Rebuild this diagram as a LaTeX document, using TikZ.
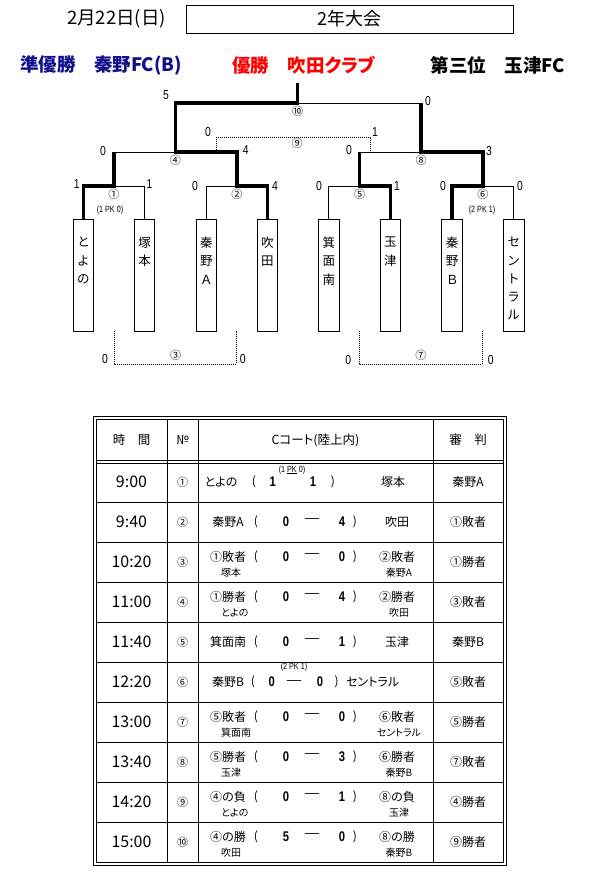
\documentclass[tikz,border=0pt]{standalone}
\usepackage{fontspec}
\newfontfamily\jpfont[RawFeature={+palt}]{Noto Sans CJK JP}
\newfontfamily\narrowfont[FakeStretch=0.8]{Liberation Sans}
\usepackage{tikz}
\usetikzlibrary{positioning}
\definecolor{runnerblue}{RGB}{16, 16, 140}
\definecolor{winnerred}{RGB}{255, 0, 0}

% one line of the schedule: row, time, no., left, score, score, right, referee, lift
\newcommand{\gamerow}[9]{%
  \node[timetxt] (time#1) at (131.5,{442+40*#1}) {#2};
  \node[numtxt] (no#1) at (182.5,{442+40*#1}) {#3};
  \node[cell] (home#1) at (228,{442+40*#1-#9}) {#4};
  \node[cell] (lp#1) at (256,{442+40*#1-#9}) {(};
  \node[tscore] (sa#1) at (286,{442+40*#1-#9}) {#5};
  \node[dashtxt] (dash#1) at (312,{442+40*#1-#9}) {―};
  \node[tscore] (sb#1) at (342,{442+40*#1-#9}) {#6};
  \node[cell] (rp#1) at (355,{442+40*#1-#9}) {)};
  \node[cell] (away#1) at (397,{442+40*#1-#9}) {#7};
  \node[cell] (ref#1) at (468,{442+40*#1}) {#8};
}
% team names under the lines above
\newcommand{\gamesub}[3]{%
  \node[subtxt, anchor=west] (homesub#1) at (221,{442+40*#1+11}) {#2};
  \node[subtxt] (awaysub#1) at (399,{442+40*#1+11}) {#3};
}

\begin{document}
\begin{tikzpicture}[
    x=1pt, y=-1pt,
    datetxt/.style={font=\jpfont\fontsize{18.5}{18.5}\selectfont, inner sep=0pt},
    eventbox/.style={
        draw, line width=0.8pt, minimum width=327pt, minimum height=28pt,
        inner sep=0pt, font=\jpfont\fontsize{18}{18}\selectfont
    },
    title/.style={font=\jpfont\bfseries\fontsize{18.5}{18.5}\selectfont, inner sep=0pt},
    teambox/.style={
        draw, line width=0.9pt, minimum width=20.5pt, minimum height=112pt,
        inner sep=0pt, anchor=north
    },
    teamname/.style={font=\jpfont\fontsize{12.5}{18.2}\selectfont, align=center, inner sep=0pt},
    win/.style={line width=3.6pt},
    lose/.style={line width=0.9pt},
    consol/.style={line width=0.8pt, dash pattern=on 1pt off 1pt},
    score/.style={font=\narrowfont\fontsize{13}{13}\selectfont, inner sep=0pt},
    matchno/.style={font=\jpfont\fontsize{11}{11}\selectfont, inner sep=0pt},
    pk/.style={font=\narrowfont\fontsize{9}{9}\selectfont, inner sep=0pt},
    frame/.style={line width=0.8pt},
    grid/.style={line width=0.8pt},
    headtxt/.style={font=\jpfont\fontsize{12.5}{12.5}\selectfont, inner sep=0pt},
    timetxt/.style={font=\jpfont\fontsize{16}{16}\selectfont, inner sep=0pt},
    numtxt/.style={font=\jpfont\fontsize{11}{11}\selectfont, inner sep=0pt},
    cell/.style={font=\jpfont\fontsize{12}{12}\selectfont, inner sep=0pt},
    dashtxt/.style={font=\jpfont\bfseries\fontsize{17}{17}\selectfont, inner sep=0pt},
    tscore/.style={font=\narrowfont\bfseries\fontsize{14}{14}\selectfont, inner sep=0pt},
    subtxt/.style={font=\jpfont\fontsize{10}{10}\selectfont, inner sep=0pt}
]
\useasboundingbox (0,0) rectangle (591,877);

% Header
\node[datetxt] (date) at (116.5,19) {2月22日(日)};
\node[eventbox] (event) at (349.5,19) {2年大会};

% Results
\node[title, text=runnerblue] (runnerup) at (101,65) {準優勝　秦野FC(B)};
\node[title, text=winnerred] (champion) at (304,65) {優勝　吹田クラブ};
\node[title] (third) at (498,65) {第三位　玉津FC};

% Teams
\node[teambox] (t1) at (83.3,219) {};
\node[teambox] (t2) at (144.5,219) {};
\node[teambox] (t3) at (206.3,219) {};
\node[teambox] (t4) at (267.3,219) {};
\node[teambox] (t5) at (328.8,219) {};
\node[teambox] (t6) at (390.3,219) {};
\node[teambox] (t7) at (452,219) {};
\node[teambox] (t8) at (513.7,219) {};
\node[teamname, below=18pt of t1.north] (n1) {と\\よ\\の};
\node[teamname, below=18pt of t2.north] (n2) {塚\\本};
\node[teamname, below=18pt of t3.north] (n3) {秦\\野\\Ａ};
\node[teamname, below=18pt of t4.north] (n4) {吹\\田};
\node[teamname, below=18pt of t5.north] (n5) {箕\\面\\南};
\node[teamname, below=18pt of t6.north] (n6) {玉\\津};
\node[teamname, below=18pt of t7.north] (n7) {秦\\野\\Ｂ};
\node[teamname, below=18pt of t8.north] (n8) {セ\\ン\\ト\\ラ\\ル};

% Match points
\coordinate (m1) at (113.9,186);
\coordinate (m2) at (236.8,186);
\coordinate (m5) at (359.5,186);
\coordinate (m6) at (482.8,186);
\coordinate (s4) at (175.3,152);
\coordinate (s8) at (421.2,152);
\coordinate (f10) at (297.5,103);
\coordinate (top) at (297.5,83);
\coordinate (d9a) at (216.7,152);
\coordinate (d9b) at (370.7,152);
\coordinate (d3a) at (114.3,331);
\coordinate (d3b) at (236.7,331);
\coordinate (d7a) at (359.3,331);
\coordinate (d7b) at (482.3,331);

% Bracket
\draw[lose] (t2.north) |- (m1);
\draw[lose] (t3.north) |- (m2);
\draw[lose] (t5.north) |- (m5);
\draw[lose] (t8.north) |- (m6);
\draw[lose] (m1 |- s4) -- (s4);
\draw[lose] (m5 |- s8) -- (s8);
\draw[lose] (f10) -- (s8 |- f10);
\draw[win] (t1.north) |- (m1) -- (m1 |- s4);
\draw[win] (t4.north) |- (m2) -- (m2 |- s4) -- (s4) -- (s4 |- f10) -- (f10) -- (top);
\draw[win] (t6.north) |- (m5) -- (m5 |- s8);
\draw[win] (t7.north) |- (m6) -- (m6 |- s8) -- (s8) -- (s8 |- f10);
\draw[consol] (d9a) -- ++(0,-15) -| (d9b);
\draw[consol] (d3a) -- ++(0,33) -| (d3b);
\draw[consol] (d7a) -- ++(0,33) -| (d7b);

% Scores
\node[score] (sc1) at (76.7,184) {1};
\node[score] (sc2) at (149.5,184) {1};
\node[score] (sc3) at (195,186) {0};
\node[score] (sc4) at (275,186) {4};
\node[score] (sc5) at (319,186) {0};
\node[score] (sc6) at (397,186) {1};
\node[score] (sc7) at (443,186) {0};
\node[score] (sc8) at (520,186) {0};
\node[score] (sc4a) at (103,151) {0};
\node[score] (sc4b) at (245.7,150) {4};
\node[score] (sc8a) at (349,150) {0};
\node[score] (sc8b) at (489,151) {3};
\node[score] (sc10a) at (166,95) {5};
\node[score] (sc10b) at (428,101) {0};
\node[score] (sc9a) at (208,132) {0};
\node[score] (sc9b) at (375,132) {1};
\node[score] (sc3a) at (105,359) {0};
\node[score] (sc3b) at (242.7,359) {0};
\node[score] (sc7a) at (348.3,360) {0};
\node[score] (sc7b) at (490.7,360) {0};

% Match numbers
\node[matchno] (g1) at (113.9,194) {①};
\node[matchno] (g2) at (236.8,194) {②};
\node[matchno] (g5) at (359.5,194) {⑤};
\node[matchno] (g6) at (482.8,194) {⑥};
\node[matchno] (g4) at (175.3,160) {④};
\node[matchno] (g8) at (421.2,160) {⑧};
\node[matchno] (g10) at (297.5,111) {⑩};
\node[matchno] (g9) at (297,143) {⑨};
\node[matchno] (g3) at (175.5,355) {③};
\node[matchno] (g7) at (420.8,355) {⑦};
\node[pk] (pkg1) at (110,210) {(1 PK 0)};
\node[pk] (pkg6) at (482,210) {(2 PK 1)};

% Table frame
\draw[frame] (93,416.5) rectangle (506,865.5);
\draw[frame] (96,419.5) rectangle (503,862.5);
\draw[grid] (96,460) -- (503,460) (96,463) -- (503,463);
\draw[grid] (96,502) -- (503,502) (96,542) -- (503,542) (96,582) -- (503,582)
    (96,622) -- (503,622) (96,662) -- (503,662) (96,702) -- (503,702)
    (96,742) -- (503,742) (96,782) -- (503,782) (96,822) -- (503,822);
\draw[grid] (167,419.5) -- (167,862.5) (198,419.5) -- (198,862.5) (433,419.5) -- (433,862.5);

% Table header
\node[headtxt] (hTime) at (131.5,440) {時　間};
\node[headtxt] (hNo) at (182.5,440) {№};
\node[headtxt] (hCourt) at (315.5,440) {Cコート(陸上内)};
\node[headtxt] (hRef) at (468,440) {審　判};

% Games
\node[timetxt] (time1) at (131.5,482) {9:00};
\node[numtxt] (no1) at (182.5,482) {①};
\node[cell] (home1) at (221,482) {とよの};
\node[cell] (lp1) at (254,482) {(};
\node[tscore] (sa1) at (272.7,482) {1};
\node[pk] (pk1) at (292,470) {(1 \underline{PK} 0)};
\node[tscore] (sb1) at (313,482) {1};
\node[cell] (rp1) at (333,482) {)};
\node[cell] (away1) at (393,482) {塚本};
\node[cell] (ref1) at (468,482) {秦野A};
\gamerow{2}{9:40}{②}{秦野A}{0}{4}{吹田}{①敗者}{0}
\gamerow{3}{10:20}{③}{①敗者}{0}{0}{②敗者}{①勝者}{5}
\gamesub{3}{塚本}{秦野A}
\gamerow{4}{11:00}{④}{①勝者}{0}{4}{②勝者}{③敗者}{5}
\gamesub{4}{とよの}{吹田}
\gamerow{5}{11:40}{⑤}{箕面南}{0}{1}{玉津}{秦野B}{0}
\node[timetxt] (time6) at (131.5,682) {12:20};
\node[numtxt] (no6) at (182.5,682) {⑥};
\node[cell] (home6) at (228,682) {秦野B};
\node[cell] (lp6) at (253,682) {(};
\node[tscore] (sa6) at (271.7,682) {0};
\node[dashtxt] (dash6) at (294,684) {―};
\node[pk] (pk6) at (294,667) {(2 PK 1)};
\node[tscore] (sb6) at (320,682) {0};
\node[cell] (rp6) at (336.7,682) {)};
\node[cell, anchor=west] (away6) at (346,682) {セントラル};
\node[cell] (ref6) at (468,682) {⑤敗者};
\gamerow{7}{13:00}{⑦}{⑤敗者}{0}{0}{⑥敗者}{⑤勝者}{5}
\gamesub{7}{箕面南}{セントラル}
\gamerow{8}{13:40}{⑧}{⑤勝者}{0}{3}{⑥勝者}{⑦敗者}{5}
\gamesub{8}{玉津}{秦野B}
\gamerow{9}{14:20}{⑨}{④の負}{0}{1}{⑧の負}{④勝者}{5}
\gamesub{9}{とよの}{玉津}
\gamerow{10}{15:00}{⑩}{④の勝}{5}{0}{⑧の勝}{⑨勝者}{5}
\gamesub{10}{吹田}{秦野B}

\end{tikzpicture}
\end{document}
